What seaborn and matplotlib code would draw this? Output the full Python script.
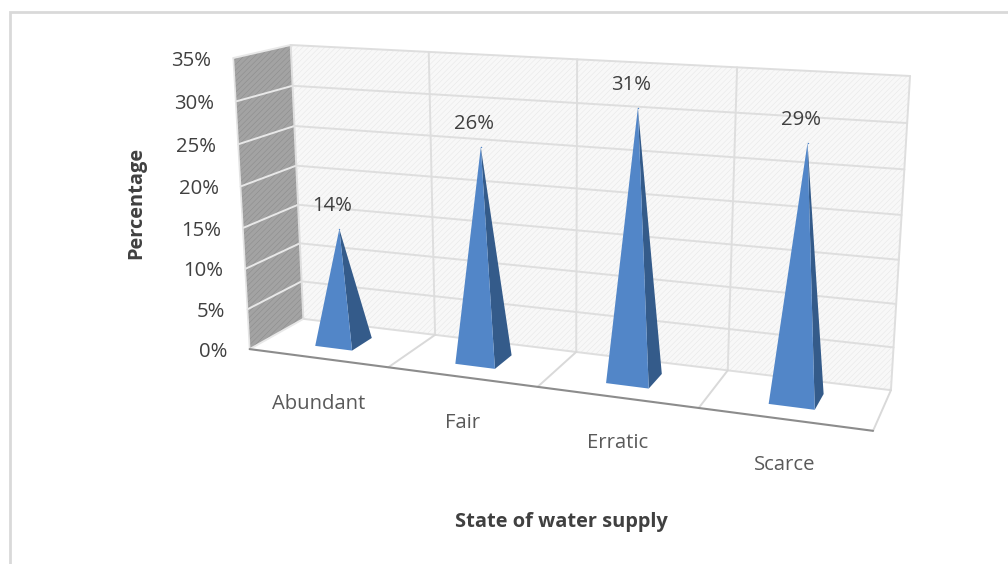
import numpy as np
import pandas as pd
import matplotlib
matplotlib.use("Agg")
import matplotlib.pyplot as plt
from matplotlib.patches import Polygon
import seaborn as sns

categories = ["Abundant", "Fair", "Erratic", "Scarce"]
values = [14.2, 25.4, 31.0, 28.4]
value_labels = ["14%", "26%", "31%", "29%"]
y_ticks = [0, 5, 10, 15, 20, 25, 30, 35]
x_title = "State of water supply"
y_title = "Percentage"

sns.set_theme(style="white")
plt.rcParams["font.family"] = ["Open Sans", "DejaVu Sans"]
plt.rcParams["hatch.linewidth"] = 0.35

# camera calibration: scene corner (cat, depth, value) -> image pixel
scene = [(0, 0, 0), (4, 0, 0), (4, 1, 0), (0, 1, 0), (0, 1, 35), (4, 1, 35), (0, 0, 35)]
image = [(250, 349), (873, 431), (891, 390), (303, 319), (291, 45), (910, 76), (233, 58)]
A, b = [], []
for (X, Z, Y), (u, v) in zip(scene, image):
    A.append([X, Z, Y, 1, 0, 0, 0, 0, -u * X, -u * Z, -u * Y])
    A.append([0, 0, 0, 0, X, Z, Y, 1, -v * X, -v * Z, -v * Y])
    b += [u, v]
m = np.linalg.lstsq(np.array(A, float), np.array(b, float), rcond=None)[0]
P = np.append(m, 1).reshape(3, 4)


def proj(x, z, y):
    w = P @ np.array([x, z, y, 1.0])
    return w[0] / w[2], w[1] / w[2]


fig = plt.figure(figsize=(10.08, 5.64), dpi=100)
ax = fig.add_axes([0, 0, 1, 1])
ax.set_xlim(0, 1008)
ax.set_ylim(564, 0)
ax.axis("off")
sns.despine(ax=ax, left=True, bottom=True)

# outer frame
ax.plot([10, 10, 1008], [564, 12, 12], color="#d9d9d9", lw=2, solid_joinstyle="miter")

top = y_ticks[-1]
n = len(categories)
FS = 14.6
FS_TITLE = 14.4
# walls and floor
ax.add_patch(Polygon([proj(0, 1, 0), proj(n, 1, 0), proj(n, 1, top), proj(0, 1, top)],
                     facecolor="#f8f8f8", edgecolor="#e6e6e6", hatch="//////", lw=0))
ax.add_patch(Polygon([proj(0, 0, 0), proj(0, 1, 0), proj(0, 1, top), proj(0, 0, top)],
                     facecolor="#a3a3a3", edgecolor="#8a8a8a", hatch="//////", lw=0))

GRID = "#dedede"
for t in y_ticks:
    xs, ys = zip(proj(0, 1, t), proj(n, 1, t))
    ax.plot(xs, ys, color=GRID, lw=1.4)
    xs, ys = zip(proj(0, 0, t), proj(0, 1, t))
    ax.plot(xs, ys, color="#e8e8e8", lw=1.4)
    x, y = proj(0, 0, t)
    ax.text(x - 22, y + 2.5, f"{t}%", ha="right", va="center", fontsize=FS, color="#404040")
for i in range(n + 1):
    xs, ys = zip(proj(i, 1, 0), proj(i, 1, top))
    ax.plot(xs, ys, color=GRID, lw=1.4)
    if i > 0:
        xs, ys = zip(proj(i, 0, 0), proj(i, 1, 0))
        ax.plot(xs, ys, color="#d9d9d9", lw=1.4)
xs, ys = zip(proj(0, 0, 0), proj(0, 0, top))
ax.plot(xs, ys, color="#e4e4e4", lw=1.2)
xs, ys = zip(proj(0, 0, 0), proj(n, 0, 0))
ax.plot(xs, ys, color="#8c8c8c", lw=1.5)

# pyramids
half_w, half_d = 0.135, 0.2
apex_rows = []
for i, (c, v, lab) in enumerate(zip(categories, values, value_labels)):
    cx = i + 0.5
    zc = 0.5
    fl = proj(cx - half_w, zc - half_d, 0)
    fr = proj(cx + half_w, zc - half_d, 0)
    br = proj(cx + half_w, zc + half_d, 0)
    apex = proj(cx, zc, v)
    ax.add_patch(Polygon([fr, br, apex], facecolor="#345B8A", edgecolor="none", zorder=5))
    ax.add_patch(Polygon([fl, fr, apex], facecolor="#5286C8", edgecolor="none", zorder=6))
    apex_rows.append({"category": c, "px": apex[0], "py": apex[1]})
    ax.text(apex[0] - 7, apex[1] - 23, lab, ha="center", va="center",
            fontsize=FS, color="#404040", zorder=7)
    x, y = proj(cx, 0, 0)
    ax.text(x + 1, y + 46, c, ha="center", va="center", fontsize=FS, color="#595959")

apex_df = pd.DataFrame(apex_rows)
sns.scatterplot(data=apex_df, x="px", y="py", s=1, color="#5286C8", linewidth=0,
                legend=False, ax=ax, zorder=8)
ax.set_xlim(0, 1008)
ax.set_ylim(564, 0)

ax.text(136, 203, y_title, rotation=90, ha="center", va="center", fontsize=FS_TITLE,
        fontweight="bold", color="#404040")
ax.text(561, 522, x_title, ha="center", va="center", fontsize=FS_TITLE,
        fontweight="bold", color="#404040")

fig.savefig("out.png", dpi=100)
